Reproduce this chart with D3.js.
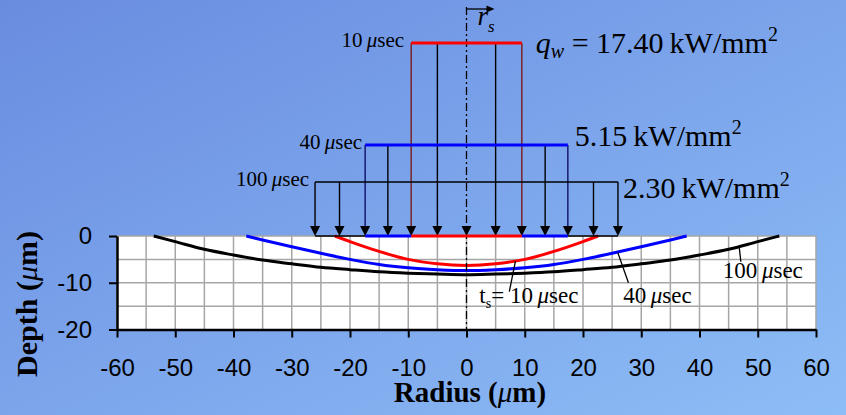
<!DOCTYPE html>
<html>
<head>
<meta charset="utf-8">
<script src="https://cdn.jsdelivr.net/npm/d3@7"></script>
<style>
  body { margin: 0; }
  svg { display: block; }
</style>
</head>
<body>
<div id="chart"></div>
<script>
// crater profiles : radius (um) / depth (um)
var r10 = [-22.6, -20, -15, -10, -5, 0, 5, 10, 15, 20, 22.6];
var d10 = [0, -1.2, -3.3, -5.0, -5.95, -6.3, -5.95, -5.0, -3.3, -1.2, 0];
var r40 = [-37.8, -35, -30, -25, -20, -15, -10, -5, 0, 5, 10, 15, 20, 25, 30, 35, 37.8];
var d40 = [0, -0.85, -2.3, -3.7, -5.0, -6.1, -6.8, -7.2, -7.4, -7.2, -6.8, -6.1, -5.0, -3.7, -2.3, -0.85, 0];
var r100 = [-53.7, -50, -45, -40, -35, -30, -25, -20, -15, -10, -5, 0, 5, 10, 15, 20, 25, 30, 35, 40, 45, 50, 53.7];
var d100 = [0, -1.2, -2.85, -4.07, -5.15, -5.95, -6.7, -7.2, -7.65, -7.95, -8.15, -8.3, -8.15, -7.95, -7.65, -7.2, -6.7, -5.95, -5.15, -4.07, -2.85, -1.2, 0];

// pulse schedule (heat flux on the spot)
var pulseTimes = ["10", "40", "100"];
var fluxValues = ["17.40", "5.15", "2.30"];
var spotRadius = [9.5, 17.4, 26];
var arrowR = [-26, -21.8, -17.4, -13.5, -9.5, -5, 0, 5, 9.5, 13.5, 17.4, 21.8, 26];

var xTicks = [-60, -50, -40, -30, -20, -10, 0, 10, 20, 30, 40, 50, 60];
var yTicks = [0, -10, -20];

var W = 846, H = 415;
var colors = ["#ff0000", "#0000ff", "#000000"];
var stemColors = ["#7a1a1a", "#10106a", "#000000"];
var levelY = [43, 145, 182];   // pixel height of each flux level
var serif = "'Liberation Serif', 'Times New Roman', serif";
var sans = "'Liberation Sans', Arial, sans-serif";

var svg = d3.select("#chart").append("svg")
    .attr("width", W).attr("height", H);

var defs = svg.append("defs");
var grad = defs.append("linearGradient").attr("id", "bg")
    .attr("x1", "0").attr("y1", "0").attr("x2", "1").attr("y2", "1");
grad.append("stop").attr("offset", "0").attr("stop-color", "#6a8ce0");
grad.append("stop").attr("offset", "1").attr("stop-color", "#8dbdf6");
svg.append("rect").attr("width", W).attr("height", H).attr("fill", "url(#bg)");

var x = d3.scaleLinear().domain([-60, 60]).range([117, 816]);
var y = d3.scaleLinear().domain([-20, 0]).range([329.5, 236]);

// plot area
svg.append("rect")
    .attr("x", x(-60)).attr("y", y(0))
    .attr("width", x(60) - x(-60)).attr("height", y(-20) - y(0))
    .attr("fill", "#fff");

var grid = svg.append("g").attr("stroke", "#a6a6a6").attr("stroke-width", 1.5);
grid.selectAll(".gx").data(d3.range(-60, 61, 5)).enter().append("line")
    .attr("x1", function(d) { return x(d); }).attr("x2", function(d) { return x(d); })
    .attr("y1", y(0)).attr("y2", y(-20));
grid.selectAll(".gy").data(d3.range(-15, 1, 5)).enter().append("line")
    .attr("x1", x(-60)).attr("x2", x(60))
    .attr("y1", function(d) { return y(d); }).attr("y2", function(d) { return y(d); });

// axes
var xAxis = svg.append("g")
    .attr("transform", "translate(0," + y(-20) + ")")
    .call(d3.axisBottom(x).tickValues(xTicks).tickSize(8).tickSizeOuter(0)
        .tickPadding(21).tickFormat(function(d) { return String(d); }));
var yAxis = svg.append("g")
    .attr("transform", "translate(" + x(-60) + ",0)")
    .call(d3.axisLeft(y).tickValues(yTicks).tickSize(8).tickSizeOuter(0)
        .tickPadding(17).tickFormat(function(d) { return String(d); }));
[xAxis, yAxis].forEach(function(a) {
    a.selectAll("path").attr("stroke", "#000").attr("stroke-width", 2.5);
    a.selectAll("line").attr("stroke", "#000").attr("stroke-width", 2);
    a.selectAll("text").attr("fill", "#000").style("font-family", sans).style("font-size", "24px");
});

// crater curves
var line = d3.line()
    .x(function(d) { return x(d[0]); })
    .y(function(d) { return y(d[1]); })
    .curve(d3.curveMonotoneX);
var profiles = [d3.zip(r10, d10), d3.zip(r40, d40), d3.zip(r100, d100)];
svg.selectAll(".crater").data(profiles).enter().append("path")
    .attr("d", line)
    .attr("fill", "none")
    .attr("stroke", function(d, i) { return colors[i]; })
    .attr("stroke-width", 3);

// symmetry axis (dash-dot)
svg.append("line")
    .attr("x1", x(0)).attr("x2", x(0))
    .attr("y1", 7).attr("y2", y(-20))
    .attr("stroke", "#000").attr("stroke-width", 1.3)
    .attr("stroke-dasharray", "8,3,2,3");

// flux arrows
function levelOf(r) {
    for (var i = 0; i < spotRadius.length; i++) {
        if (Math.abs(r) <= spotRadius[i] + 0.01) return i;
    }
    return spotRadius.length - 1;
}
var arrows = svg.append("g");
arrowR.forEach(function(r) {
    var li = levelOf(r);
    var edge = Math.abs(Math.abs(r) - spotRadius[li]) < 0.01;
    var col = edge ? stemColors[li] : "#000";
    if (r !== 0) {
        arrows.append("line")
            .attr("x1", x(r)).attr("x2", x(r))
            .attr("y1", levelY[li]).attr("y2", y(0) - 6)
            .attr("stroke", col).attr("stroke-width", 1.4);
    }
    arrows.append("path")
        .attr("d", "M" + (x(r) - 5) + "," + (y(0) - 10) + "L" + (x(r) + 5) + "," + (y(0) - 10) +
            "L" + x(r) + "," + y(0) + "Z")
        .attr("fill", "#000");
});

// flux levels and surface segments
spotRadius.forEach(function(R, i) {
    var w = i === 2 ? 1.5 : 3.2;
    svg.append("line")
        .attr("x1", x(-R)).attr("x2", x(R))
        .attr("y1", levelY[i]).attr("y2", levelY[i])
        .attr("stroke", colors[i]).attr("stroke-width", w);
    var inner = i === 0 ? 0 : spotRadius[i - 1];
    [-1, 1].forEach(function(s) {
        svg.append("line")
            .attr("x1", x(s * inner)).attr("x2", x(s * R))
            .attr("y1", y(0)).attr("y2", y(0))
            .attr("stroke", colors[i]).attr("stroke-width", w);
    });
});

// time labels to the left of each level
function musec(sel, t) {
    sel.append("tspan").text(t + "\u2009");
    sel.append("tspan").attr("font-style", "italic").text("\u03bc");
    sel.append("tspan").text("sec");
}
var leftGap = [7, 3, 6];
pulseTimes.forEach(function(t, i) {
    var txt = svg.append("text")
        .attr("x", x(-spotRadius[i]) - leftGap[i]).attr("y", levelY[i] + 4)
        .attr("text-anchor", "end")
        .style("font-family", serif).style("font-size", "21px");
    musec(txt, t);
});

// flux labels to the right of each level
var rightGap = [14, 7, 5];
var rightBase = [53, 146, 198];
fluxValues.forEach(function(q, i) {
    var txt = svg.append("text")
        .attr("x", x(spotRadius[i]) + rightGap[i]).attr("y", rightBase[i])
        .style("font-family", serif).style("font-size", "30px");
    if (i === 0) {
        txt.append("tspan").attr("font-style", "italic").text("q");
        txt.append("tspan").attr("font-style", "italic").attr("font-size", "20px")
            .attr("dy", 5).text("w");
        txt.append("tspan").attr("dy", -5).text(" = " + q + "\u2009kW/mm");
    } else {
        txt.append("tspan").text(q + "\u2009kW/mm");
    }
    txt.append("tspan").attr("font-size", "20px").attr("dy", -12).text("2");
});

// r_s arrow
svg.append("line")
    .attr("x1", x(0)).attr("x2", x(0) + 22)
    .attr("y1", 9).attr("y2", 9)
    .attr("stroke", "#000").attr("stroke-width", 1.3);
svg.append("path")
    .attr("d", "M" + (x(0) + 28) + ",9L" + (x(0) + 20) + ",5.5L" + (x(0) + 20) + ",12.5Z")
    .attr("fill", "#000");
var rs = svg.append("text").attr("x", x(0) + 11).attr("y", 25)
    .style("font-family", serif).style("font-size", "27px").attr("font-style", "italic");
rs.append("tspan").text("r");
rs.append("tspan").attr("font-size", "17px").attr("dy", 7).text("s");

// curve annotations
var notes = [
    { at: [2.2, -14.4], lead: [[7.35, -11.9], [8.4, -5.4]] },
    { at: [26.9, -14.4], lead: [[27.8, -10.0], [25.96, -3.5]] },
    { at: [44.0, -9.05], lead: [[47.1, -5.5], [46.8, -2.2]] }
];
notes.forEach(function(n, i) {
    svg.append("line")
        .attr("x1", x(n.lead[0][0])).attr("y1", y(n.lead[0][1]))
        .attr("x2", x(n.lead[1][0])).attr("y2", y(n.lead[1][1]))
        .attr("stroke", "#000").attr("stroke-width", 1.3);
    var txt = svg.append("text")
        .attr("x", x(n.at[0])).attr("y", y(n.at[1]))
        .style("font-family", serif).style("font-size", "23px");
    if (i === 0) {
        txt.append("tspan").text("t");
        txt.append("tspan").attr("font-size", "14px").attr("dy", 5).text("s");
        txt.append("tspan").attr("dy", -5).text("= ");
    }
    musec(txt, pulseTimes[i]);
});

// axis titles
var xt = svg.append("text")
    .attr("x", 470).attr("y", 402)
    .attr("text-anchor", "middle")
    .style("font-family", serif).style("font-size", "29px").style("font-weight", "bold");
xt.append("tspan").text("Radius (");
xt.append("tspan").attr("font-style", "italic").attr("font-weight", "normal").text("\u03bc");
xt.append("tspan").text("m)");

var yt = svg.append("text")
    .attr("transform", "translate(37,304) rotate(-90)")
    .attr("text-anchor", "middle")
    .style("font-family", serif).style("font-size", "30px").style("font-weight", "bold");
yt.append("tspan").text("Depth (");
yt.append("tspan").attr("font-style", "italic").attr("font-weight", "normal").text("\u03bc");
yt.append("tspan").text("m)");
</script>
</body>
</html>
